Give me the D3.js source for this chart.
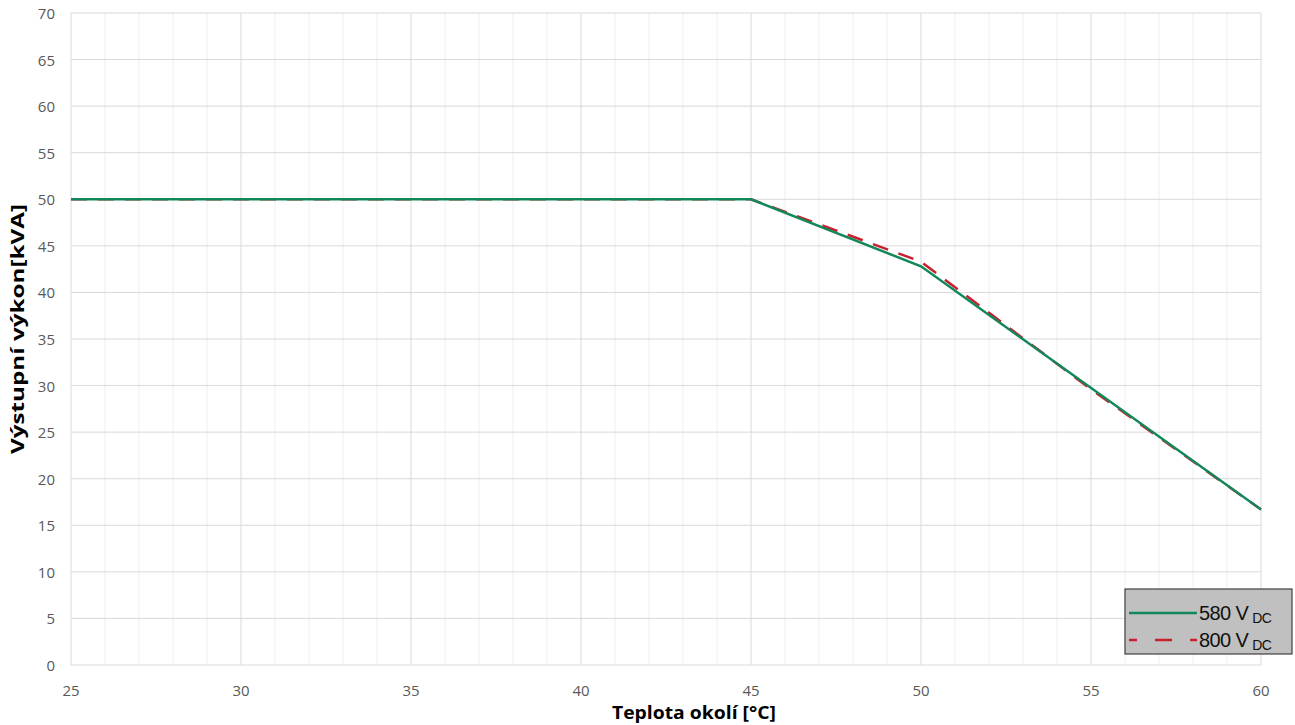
<!DOCTYPE html>
<html>
<head>
<meta charset="utf-8">
<script src="https://cdn.jsdelivr.net/npm/d3@7"></script>
<style>
  body { margin: 0; background: #fff; }
  text { font-family: "Open Sans", "Noto Sans", sans-serif; }
</style>
</head>
<body>
<svg id="chart" width="1295" height="725"></svg>
<script>
// Series (temperature °C, output kVA)
const temp_580 = [25, 45, 50, 60];
const power_580 = [50, 50, 42.8, 16.7];
const temp_800 = [25, 45, 50, 55, 60];
const power_800 = [50, 50, 43.3, 29.6, 16.7];

const x_ticks = [25, 30, 35, 40, 45, 50, 55, 60];
const y_ticks = [0, 5, 10, 15, 20, 25, 30, 35, 40, 45, 50, 55, 60, 65, 70];
const legend_labels = ["580 V", "800 V"];

const margin = ({top: 13, right: 34, bottom: 60, left: 71});
const width = 1295;
const height = 725;

const svg = d3.select("#chart");

const x = d3.scaleLinear().domain([25, 60]).range([margin.left, width - margin.right]);
const y = d3.scaleLinear().domain([0, 70]).range([height - margin.bottom, margin.top]);

// minor vertical grid every 1 °C
svg.append("g")
  .selectAll("line")
  .data(d3.range(26, 60).filter(d => d % 5 != 0))
  .join("line")
  .attr("x1", d => x(d)).attr("x2", d => x(d))
  .attr("y1", y(0)).attr("y2", y(70))
  .attr("stroke", "#efefef").attr("stroke-width", 1);

// major grid
svg.append("g")
  .selectAll("line")
  .data(x_ticks)
  .join("line")
  .attr("x1", d => x(d)).attr("x2", d => x(d))
  .attr("y1", y(0)).attr("y2", y(70))
  .attr("stroke", "#d9d9d9").attr("stroke-width", 1);

svg.append("g")
  .selectAll("line")
  .data(y_ticks)
  .join("line")
  .attr("x1", x(25)).attr("x2", x(60))
  .attr("y1", d => y(d)).attr("y2", d => y(d))
  .attr("stroke", "#d9d9d9").attr("stroke-width", 1);

// tick labels
svg.append("g")
  .selectAll("text")
  .data(y_ticks)
  .join("text")
  .attr("x", 55)
  .attr("y", d => y(d) + 6)
  .attr("text-anchor", "end")
  .attr("font-size", 15)
  .attr("fill", "#595959")
  .text(d => d);

svg.append("g")
  .selectAll("text")
  .data(x_ticks)
  .join("text")
  .attr("x", d => x(d))
  .attr("y", 696)
  .attr("text-anchor", "middle")
  .attr("font-size", 15)
  .attr("fill", "#595959")
  .text(d => d);

// axis titles
svg.append("text")
  .attr("x", 694).attr("y", 719)
  .attr("text-anchor", "middle")
  .attr("font-size", 18).attr("font-weight", "bold")
  .attr("textLength", 164)
  .attr("lengthAdjust", "spacingAndGlyphs")
  .text("Teplota okolí [°C]");

svg.append("text")
  .attr("transform", `translate(24,${y(35) - 10}) rotate(-90)`)
  .attr("text-anchor", "middle")
  .attr("font-size", 18).attr("font-weight", "bold")
  .attr("textLength", 250)
  .attr("lengthAdjust", "spacingAndGlyphs")
  .text("Výstupní výkon[kVA]");

const line = d3.line().x(d => x(d[0])).y(d => y(d[1]));

svg.append("path")
  .datum(d3.zip(temp_800, power_800))
  .attr("d", line)
  .attr("fill", "none")
  .attr("stroke", "#c8202f")
  .attr("stroke-width", 2.5)
  .attr("stroke-dasharray", "16,11");

svg.append("path")
  .datum(d3.zip(temp_580, power_580))
  .attr("d", line)
  .attr("fill", "none")
  .attr("stroke", "#12875a")
  .attr("stroke-width", 2.5);

// legend
const lg = svg.append("g").attr("transform", "translate(1125,589)");
lg.append("rect")
  .attr("width", 167).attr("height", 65)
  .attr("fill", "#c0c0c0").attr("stroke", "#404040").attr("stroke-width", 1.2);

const styles = [
  {stroke: "#12875a", dash: null, offset: 0},
  {stroke: "#c8202f", dash: "17,18", offset: 9}
];
legend_labels.forEach((lab, i) => {
  const yy = 24 + i * 27;
  lg.append("line")
    .attr("x1", 4).attr("x2", 72)
    .attr("y1", yy).attr("y2", yy)
    .attr("stroke", styles[i].stroke)
    .attr("stroke-width", 2.5)
    .attr("stroke-dasharray", styles[i].dash)
    .attr("stroke-dashoffset", styles[i].offset);
  const t = lg.append("text")
    .attr("x", 74).attr("y", yy + 7)
    .style("font-family", "'Liberation Sans', Arial, sans-serif")
    .attr("font-size", 20)
    .attr("letter-spacing", -0.6)
    .attr("fill", "#111")
    .text(lab);
  t.append("tspan")
    .attr("dx", 4).attr("dy", 3)
    .attr("font-size", 14)
    .text("DC");
});
</script>
</body>
</html>
